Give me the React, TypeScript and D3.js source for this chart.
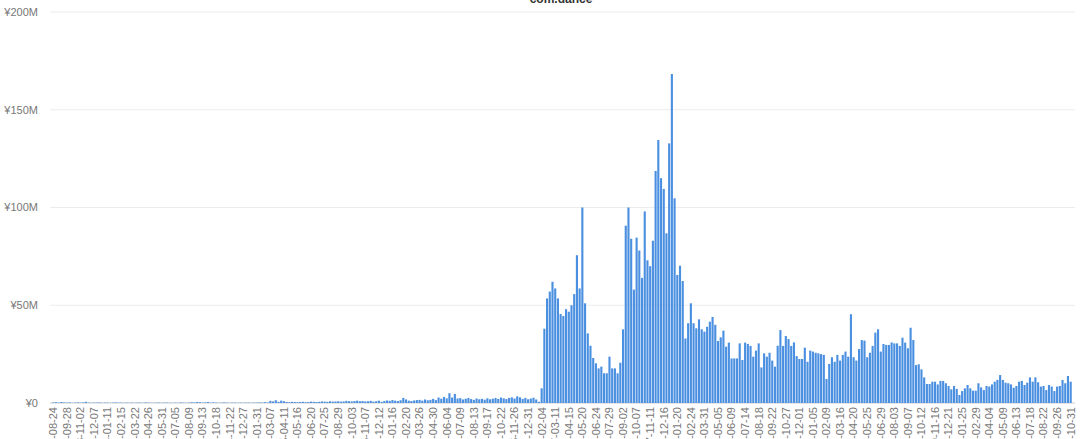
import React from "react";
import * as d3 from "d3";

const title = "com.dance";
const startWeek = new Date(2013, 7, 24);
const endWeek = new Date(2020, 10, 7);

// weekly values, in millions of yen
const valuesM: number[] = [
  0.3,0.4,0.2,0.5,0.3,0.2,0.3,0.1,0.2,0.3,
  0.2,0.3,0.6,0.2,0.1,0.2,0.2,0.3,0.1,0.2,
  0.2,0.1,0.2,0.3,0.2,0.2,0.1,0.2,0.1,0.2,
  0.1,0.2,0.2,0.1,0.3,0.2,0.1,0.1,0.2,0.2,
  0.1,0.2,0.2,0.1,0.1,0.2,0.1,0.3,0.2,0.1,
  0.2,0.4,0.3,0.5,0.4,0.2,0.3,0.5,0.2,0.3,
  0.2,0.1,0.2,0.3,0.2,0.1,0.2,0.2,0.1,0.2,
  0.1,0.2,0.2,0.1,0.2,0.2,0.3,0.2,0.4,0.3,
  1.1,0.8,1.4,0.6,1.2,0.9,0.5,0.4,0.6,0.5,
  0.4,0.5,0.6,0.4,0.5,0.7,0.6,0.5,0.6,0.8,
  0.7,0.6,0.9,0.7,0.8,0.9,0.7,0.8,1.1,0.9,
  0.8,1.0,1.2,0.9,1.0,0.8,0.9,1.1,0.7,0.9,
  1.2,0.6,1.0,1.3,1.1,1.5,1.2,1.0,1.4,2.6,
  1.8,1.2,1.0,1.3,1.5,1.6,1.2,1.8,1.4,1.6,
  2.1,1.5,2.8,2.2,3.1,2.4,5.0,2.8,4.6,2.3,
  2.5,1.8,2.2,2.6,2.0,1.6,2.3,1.9,2.1,1.7,
  2.4,1.9,2.2,2.6,2.1,2.8,2.4,2.0,2.6,2.9,
  2.3,3.4,2.9,2.1,2.6,1.9,2.3,2.7,1.8,0.6,
  7.5,38,53.5,57,62,58.6,53.5,45.5,44.5,48,
  46.7,50,55.7,75.6,58.6,100,51,35.6,29.3,23,
  20.3,17.7,18.6,15.2,15.2,23.7,17.7,17.7,15.2,20.6,
  37.7,90.7,100,84,58,84.6,78,64,98,73,
  70,83,118.7,134.5,115,109.5,86.8,132.8,168.3,104.7,
  65.5,70.2,62.4,33,40.8,51,40.8,38.2,42.8,37.7,
  36.5,39,41.6,44,40,31.7,33.6,37,28.8,30.9,
  22.8,22.8,22.8,30.5,22,30.9,30.2,29.2,23.7,26.8,
  30.5,18.2,25.4,23.7,25.7,21.7,18.6,29.3,37.3,29.2,
  34.3,32.7,29.2,31,24,22.5,22.5,28.3,21.1,26.8,
  26.3,25.7,25.4,25,24.6,12.3,20,23.4,21.1,24.6,
  21.7,24.6,26.3,23.7,45.4,23.4,21.7,27.6,32.2,31.9,
  23.4,25.7,29.2,36,37.7,26.3,30.2,29.7,29.7,31,
  30.5,30.5,29.2,33.4,30.9,28,38.5,32.2,19.4,19.8,
  17.2,13.1,9.7,9.7,10.9,10.9,9.5,11.3,11.3,10.1,
  8.7,7,8.7,7.2,4.1,6.1,7.5,9.2,7.5,6.3,
  6.3,10.1,8,6.6,8.7,8.4,9.5,10.9,11.8,14.3,
  11.8,10.4,10.1,9.5,7.8,8.7,10.9,11.3,9.2,10.4,
  13.1,10.9,13.1,10.6,8.4,8.7,6.6,9.2,8.4,6.1,
  8.4,8.7,11.8,10.1,13.8,10.9,10.1
];

const yTicks = [0, 50, 100, 150, 200];
const yTickLabels = ["¥0", "¥50M", "¥100M", "¥150M", "¥200M"];
const labelEvery = 5;

export default function App() {
  const W = 1080, H = 439;
  const left = 52, right = 1072, top = 12, bottom = 403;
  const weeks = d3.timeDay.range(startWeek, endWeek, 7);
  const cats = weeks.map((d) => d3.timeFormat("%Y-%m-%d")(d));
  const n = Math.min(cats.length, valuesM.length);
  const categories = cats.slice(0, n);
  const x = d3.scaleBand<string>().domain(categories).range([left, right]).paddingInner(0.22).paddingOuter(0.1);
  const y = d3.scaleLinear().domain([0, 200]).range([bottom, top]);
  const font = "'Liberation Sans', Arial, sans-serif";

  return (
    <svg width={W} height={H} style={{ position: "absolute", left: 0, top: 0, background: "#fff" }} fontFamily={font}>
      <text x={561} y={3} textAnchor="middle" fontSize={12} fontWeight="bold" fill="#333">{title}</text>
      {yTicks.map((t, i) => (
        <g key={t}>
          <line x1={left - 2} x2={1075} y1={y(t)} y2={y(t)} stroke={t === 0 ? "#cccccc" : "#ececec"} strokeWidth={1} />
          <text x={38} y={y(t)} dy="0.35em" textAnchor="end" fontSize={11} fill="#777">{yTickLabels[i]}</text>
        </g>
      ))}
      {categories.map((c, i) => (
        <rect key={c} x={x(c)} y={y(valuesM[i])} width={x.bandwidth()} height={bottom - y(valuesM[i])} fill="#4a8fe0" />
      ))}
      {categories.map((c, i) =>
        i % labelEvery === 0 ? (
          <text key={"l" + c} transform={`translate(${(x(c) as number) + x.bandwidth() / 2},${bottom + 4}) rotate(-90)`} textAnchor="end" dy="0.35em" fontSize={11} fill="#777">{c}</text>
        ) : null
      )}
    </svg>
  );
}
